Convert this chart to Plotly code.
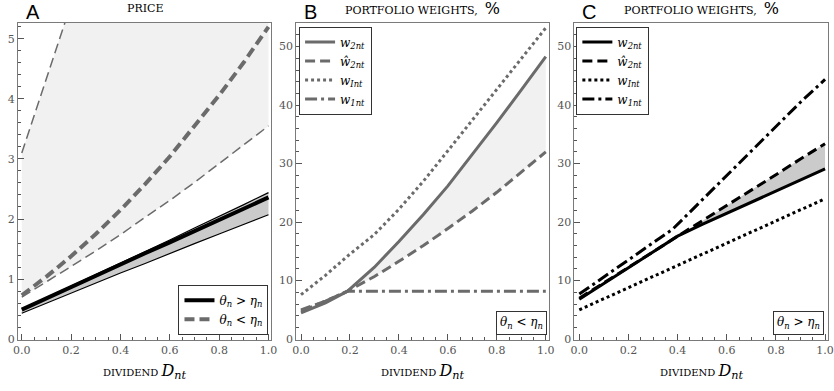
import plotly.graph_objects as go

# ---------------- data ----------------
x_grid = [0.0, 0.1, 0.2, 0.3, 0.4, 0.5, 0.6, 0.7, 0.8, 0.9, 1.0]

# Panel A: price
A_dash_thick = [0.73, 1.04, 1.38, 1.75, 2.15, 2.58, 3.04, 3.54, 4.06, 4.61, 5.20]
A_dash_low = [0.70, 0.95, 1.21, 1.47, 1.74, 2.03, 2.31, 2.61, 2.92, 3.23, 3.55]
A_dash_up = [3.10, 4.33, 5.58, 6.90, 8.20, 9.60, 11.0, 12.5, 14.0, 15.6, 17.2]
A_solid_thick = [0.49, 0.68, 0.86, 1.05, 1.24, 1.43, 1.61, 1.80, 1.99, 2.17, 2.36]
A_solid_up = [0.50, 0.69, 0.88, 1.07, 1.26, 1.46, 1.65, 1.85, 2.04, 2.24, 2.44]
A_solid_low = [0.43, 0.60, 0.77, 0.93, 1.10, 1.26, 1.43, 1.59, 1.75, 1.91, 2.07]

# Panel B: portfolio weights, theta < eta
B_x = [0.0, 0.1, 0.19, 0.3, 0.4, 0.5, 0.6, 0.7, 0.8, 0.9, 1.0]
B_w2 = [4.5, 6.2, 8.2, 12.3, 16.7, 21.3, 26.2, 31.5, 37.0, 42.6, 48.3]
B_w2hat = [5.0, 6.5, 8.2, 10.7, 13.3, 16.0, 18.9, 21.9, 25.1, 28.5, 32.0]
B_wI = [7.6, 10.9, 14.2, 17.9, 22.2, 27.0, 32.2, 37.5, 42.8, 48.1, 53.2]
B_w1_x = [0.0, 0.1, 0.19, 0.4, 0.6, 0.8, 1.0]
B_w1 = [4.8, 6.5, 8.2, 8.2, 8.2, 8.2, 8.2]

# Panel C: portfolio weights, theta > eta
C_w2 = [6.8, 9.5, 12.2, 14.9, 17.6, 19.6, 21.5, 23.4, 25.3, 27.2, 29.1]
C_w2hat = [7.0, 9.6, 12.3, 14.9, 17.6, 20.2, 22.8, 25.5, 28.1, 30.8, 33.4]
C_wI = [5.0, 6.9, 8.8, 10.7, 12.6, 14.5, 16.4, 18.3, 20.2, 22.1, 24.0]
C_w1_x = [0.0, 0.1, 0.2, 0.3, 0.38, 0.5, 0.6, 0.7, 0.8, 0.9, 1.0]
C_w1 = [7.7, 10.6, 13.5, 16.4, 18.8, 23.8, 28.0, 32.2, 36.3, 40.5, 44.4]

x_ticks = [0.0, 0.2, 0.4, 0.6, 0.8, 1.0]
x_ticklabels = ["0.0", "0.2", "0.4", "0.6", "0.8", "1.0"]
A_yticks = [0, 1, 2, 3, 4, 5]
BC_yticks = [0, 10, 20, 30, 40, 50]

# ---------------- styles ----------------
GREY = "#6b6b6b"
LIGHT = "#f1f1f1"
MID = "#cbcbcb"
SERIF = "DejaVu Serif"

fig = go.Figure()


def poly(x, lo, hi, color, xa, ya):
    fig.add_trace(go.Scatter(
        x=list(x) + list(x)[::-1], y=list(lo) + list(hi)[::-1],
        fill="toself", fillcolor=color, mode="none", hoverinfo="skip",
        showlegend=False, xaxis=xa, yaxis=ya))


def line(x, y, color, width, dash, xa, ya, name=None, legend=None):
    fig.add_trace(go.Scatter(
        x=x, y=y, mode="lines", line=dict(color=color, width=width, dash=dash),
        name=name if name else "trace", showlegend=name is not None,
        legend=legend if legend else "legend", xaxis=xa, yaxis=ya))


th_gt = "<i>θ</i><sub><i>n</i></sub> &gt; <i>η</i><sub><i>n</i></sub>"
th_lt = "<i>θ</i><sub><i>n</i></sub> &lt; <i>η</i><sub><i>n</i></sub>"

# Panel A
poly(x_grid, A_dash_low, A_dash_up, LIGHT, "x", "y")
poly(x_grid, A_solid_low, A_solid_up, MID, "x", "y")
line(x_grid, A_dash_up, GREY, 1.5, "10px,5px", "x", "y")
line(x_grid, A_dash_low, GREY, 1.5, "10px,5px", "x", "y")
line(x_grid, A_solid_up, "black", 1.2, "solid", "x", "y")
line(x_grid, A_solid_low, "black", 1.2, "solid", "x", "y")
line(x_grid, A_solid_thick, "black", 4, "solid", "x", "y", th_gt, "legend")
line(x_grid, A_dash_thick, GREY, 4, "10px,5px", "x", "y", th_lt, "legend")

# Panel B
lab_w2 = "<i>w</i><sub><i>2nt</i></sub>"
lab_w2hat = "<i>ŵ</i><sub><i>2nt</i></sub>"
lab_wI = "<i>w</i><sub><i>Int</i></sub>"
lab_w1 = "<i>w</i><sub><i>1nt</i></sub>"

poly(B_x, B_w2hat, B_w2, LIGHT, "x2", "y2")
line(B_x, B_w2, GREY, 3, "solid", "x2", "y2", lab_w2, "legend2")
line(B_x, B_w2hat, GREY, 3, "10px,5px", "x2", "y2", lab_w2hat, "legend2")
line(B_x, B_wI, GREY, 3, "3px,3px", "x2", "y2", lab_wI, "legend2")
line(B_w1_x, B_w1, GREY, 3, "12px,4px,3px,4px", "x2", "y2", lab_w1, "legend2")

# Panel C
poly(x_grid, C_w2, C_w2hat, MID, "x3", "y3")
line(x_grid, C_w2, "black", 3, "solid", "x3", "y3", lab_w2, "legend3")
line(x_grid, C_w2hat, "black", 3, "10px,5px", "x3", "y3", lab_w2hat, "legend3")
line(x_grid, C_wI, "black", 3, "3px,3px", "x3", "y3", lab_wI, "legend3")
line(C_w1_x, C_w1, "black", 3, "12px,4px,3px,4px", "x3", "y3", lab_w1, "legend3")

# ---------------- axes ----------------
W, H = 834, 391


def px_x(p):
    return p / W


def px_y(p):
    return (H - p) / H


axis_common = dict(
    showline=True, mirror=True, linecolor="#7a7a7a", linewidth=1,
    ticks="inside", ticklen=6, tickcolor="#555", tickwidth=1,
    showgrid=False, zeroline=False,
    tickfont=dict(family=SERIF, size=11, color="#555"),
)

y_dom = [px_y(345), px_y(23)]
minor_x = dict(ticks="inside", ticklen=3, tickcolor="#555", dtick=0.05)

fig.update_layout(
    xaxis=dict(domain=[px_x(13), px_x(270)], range=[-0.016, 1.012],
               tickvals=x_ticks, ticktext=x_ticklabels, minor=minor_x,
               anchor="y", **axis_common),
    yaxis=dict(domain=y_dom, range=[-0.01, 5.27], tickvals=A_yticks,
               minor=dict(ticks="inside", ticklen=3, tickcolor="#555", dtick=0.2),
               anchor="x", **axis_common),
    xaxis2=dict(domain=[px_x(295), px_x(551)], range=[-0.02, 1.012],
                tickvals=x_ticks, ticktext=x_ticklabels, minor=minor_x,
                anchor="y2", **axis_common),
    yaxis2=dict(domain=y_dom, range=[-0.1, 54.1], tickvals=BC_yticks,
                minor=dict(ticks="inside", ticklen=3, tickcolor="#555", dtick=2),
                anchor="x2", **axis_common),
    xaxis3=dict(domain=[px_x(577), px_x(834)], range=[-0.02, 1.012],
                tickvals=x_ticks, ticktext=x_ticklabels, minor=minor_x,
                anchor="y3", **axis_common),
    yaxis3=dict(domain=y_dom, range=[-0.1, 54.1], tickvals=BC_yticks,
                minor=dict(ticks="inside", ticklen=3, tickcolor="#555", dtick=2),
                anchor="x3", **axis_common),
)

legend_common = dict(
    bgcolor="white", bordercolor="#333", borderwidth=1,
    font=dict(family=SERIF, size=12, color="black"),
    tracegroupgap=0, itemwidth=30,
)

fig.update_layout(
    width=W, height=H, margin=dict(l=0, r=0, t=0, b=0),
    paper_bgcolor="white", plot_bgcolor="white", showlegend=True,
    legend=dict(x=px_x(267), y=px_y(340), xanchor="right", yanchor="bottom",
                **legend_common),
    legend2=dict(x=px_x(298), y=px_y(27), xanchor="left", yanchor="top",
                 **legend_common),
    legend3=dict(x=px_x(579), y=px_y(27), xanchor="left", yanchor="top",
                 **legend_common),
)

# ---------------- annotations ----------------
annos = []
pct_title = "PORTFOLIO WEIGHTS,&nbsp;&nbsp;<span style='font-size:16px'>%</span>"
panels = [("A", 13, 270, "PRICE"),
          ("B", 295, 551, pct_title),
          ("C", 577, 834, pct_title)]
for letter, l, r, title in panels:
    annos.append(dict(text=letter, x=px_x(l + 6), y=px_y(12), xref="paper", yref="paper",
                      xanchor="left", yanchor="middle", showarrow=False,
                      font=dict(family="Liberation Sans", size=20, color="black")))
    annos.append(dict(text=title, x=px_x((l + r) / 2), y=px_y(9), xref="paper", yref="paper",
                      xanchor="center", yanchor="middle", showarrow=False,
                      font=dict(family=SERIF, size=11, color="black")))
    annos.append(dict(text="DIVIDEND <span style='font-size:16px'><i>D</i><sub><i>nt</i></sub></span>",
                      x=px_x((l + r) / 2), y=px_y(377), xref="paper", yref="paper",
                      xanchor="center", yanchor="middle", showarrow=False,
                      font=dict(family=SERIF, size=10, color="black")))

annos.append(dict(text=th_lt, x=px_x(549), y=px_y(340), xref="paper", yref="paper",
                  xanchor="right", yanchor="bottom", showarrow=False,
                  bordercolor="#333", borderwidth=1, borderpad=3, bgcolor="white",
                  font=dict(family=SERIF, size=12, color="black")))
annos.append(dict(text=th_gt, x=px_x(830), y=px_y(340), xref="paper", yref="paper",
                  xanchor="right", yanchor="bottom", showarrow=False,
                  bordercolor="#333", borderwidth=1, borderpad=3, bgcolor="white",
                  font=dict(family=SERIF, size=12, color="black")))
fig.update_layout(annotations=annos)

fig.write_html("out.html", config={"displayModeBar": False},
               post_script="document.body.style.margin='0';document.body.style.overflow='hidden';")
